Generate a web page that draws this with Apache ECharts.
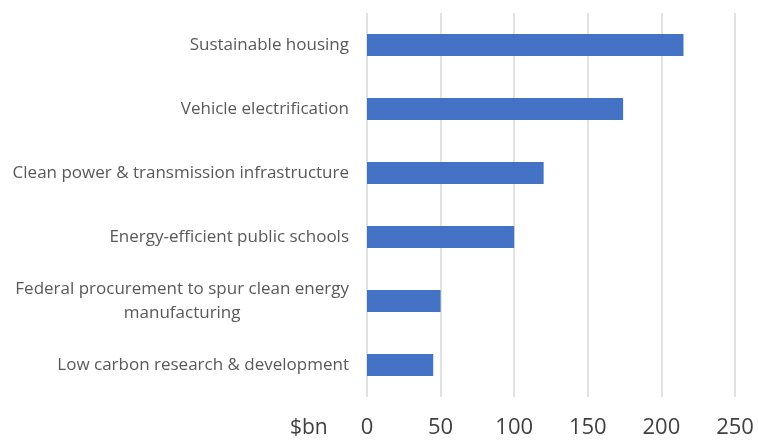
<!DOCTYPE html>
<html>
<head>
<meta charset="utf-8">
<script src="https://cdn.jsdelivr.net/npm/echarts@6/dist/echarts.min.js"></script>
<style>
html,body{margin:0;padding:0;background:#fff;}
#c{width:758px;height:441px;}
</style>
</head>
<body>
<div id="c"></div>
<script>
const categories = [
  "Sustainable housing",
  "Vehicle electrification",
  "Clean power & transmission infrastructure",
  "Energy-efficient public schools",
  "Federal procurement to spur clean energy\nmanufacturing",
  "Low carbon research & development"
];
const values = [215, 174, 120, 100, 50, 45];
const xTicks = [0, 50, 100, 150, 200, 250];
const unitLabel = "$bn";

const chart = echarts.init(document.getElementById('c'));
chart.setOption({
  animation: false,
  backgroundColor: '#fff',
  grid: {left: 367, right: 23, top: 13, bottom: 44, containLabel: false},
  xAxis: {
    type: 'value',
    min: xTicks[0],
    max: xTicks[xTicks.length - 1],
    interval: xTicks[1] - xTicks[0],
    axisLine: {show: false},
    axisTick: {show: false},
    splitLine: {show: true, lineStyle: {color: '#d9d9d9', width: 1.5}},
    axisLabel: {
      fontFamily: 'Open Sans', fontSize: 22, color: '#404040', margin: 20
    }
  },
  yAxis: {
    type: 'category',
    inverse: true,
    data: categories,
    axisLine: {show: false},
    axisTick: {show: false},
    splitLine: {show: false},
    axisLabel: {
      fontFamily: 'Open Sans', fontSize: 17, color: '#595959', margin: 18,
      lineHeight: 24,
      formatter: function (v) {
        return v.split('\n').map(function (s) { return '{c|' + s + '}'; }).join('\n');
      },
      rich: {c: {align: 'center', fontFamily: 'Open Sans', fontSize: 17, color: '#595959', lineHeight: 24}}
    }
  },
  graphic: [{
    type: 'text',
    left: 290,
    top: 418,
    style: {text: unitLabel, fontFamily: 'Open Sans', fontSize: 21, fill: '#404040'}
  }],
  series: [{
    type: 'bar',
    data: values,
    barWidth: 22,
    itemStyle: {color: '#4472C4'}
  }]
});
</script>
</body>
</html>
